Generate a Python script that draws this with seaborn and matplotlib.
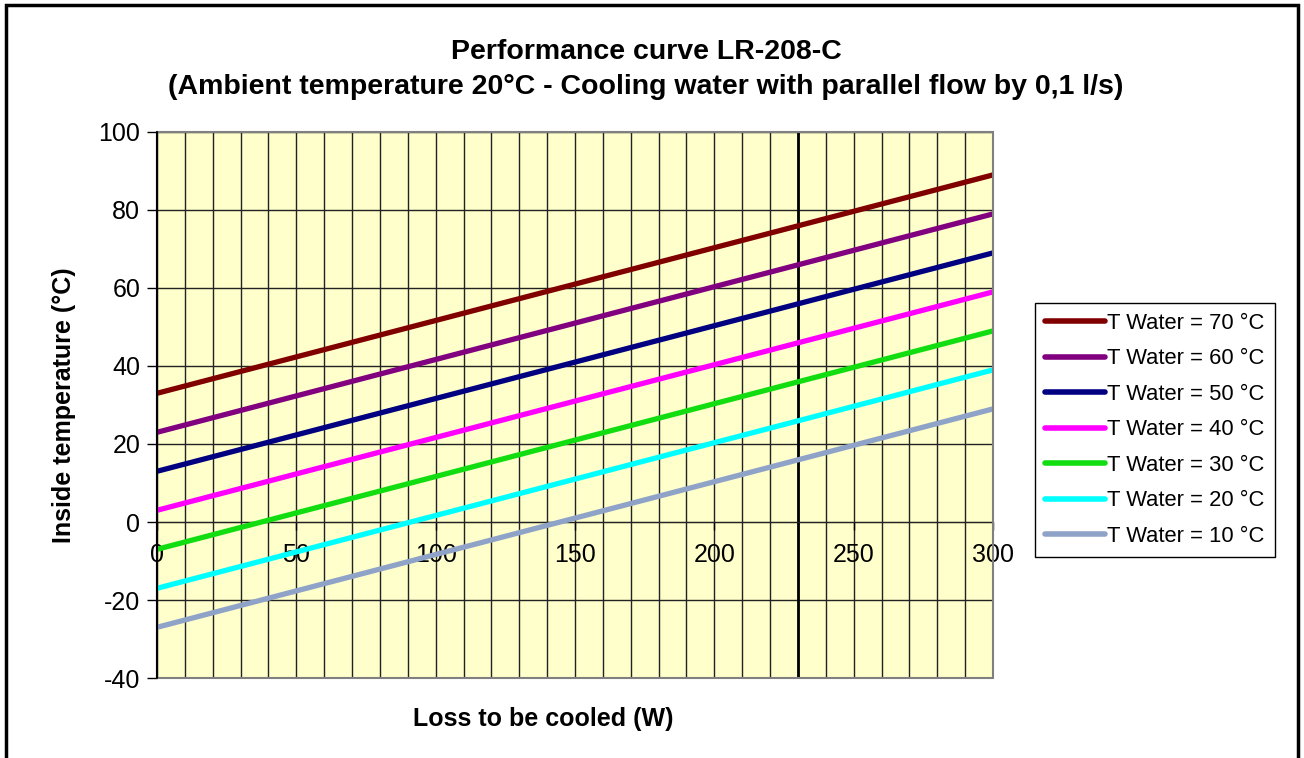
import pandas as pd
import matplotlib.pyplot as plt
import matplotlib.patches as mpatches
from matplotlib.ticker import MultipleLocator
import seaborn as sns

# Data
loss_w = [0, 300]
series_labels = ['T Water = 70 °C', 'T Water = 60 °C', 'T Water = 50 °C',
                 'T Water = 40 °C', 'T Water = 30 °C', 'T Water = 20 °C',
                 'T Water = 10 °C']
temp_start = [33, 23, 13, 3, -7, -17, -27]
temp_end = [89, 79, 69, 59, 49, 39, 29]
colors = ['#800000', '#800080', '#000080', '#FF00FF', '#11DD11', '#00FFFF', '#8FA3C8']
marker_loss = 230

rows = []
for lab, t0, t1 in zip(series_labels, temp_start, temp_end):
    rows.append({'loss': loss_w[0], 'temp': t0, 'series': lab})
    rows.append({'loss': loss_w[1], 'temp': t1, 'series': lab})
df = pd.DataFrame(rows)

sns.set_style('white')
plt.rcParams['font.family'] = ['Liberation Sans', 'DejaVu Sans']
plt.rcParams['axes.unicode_minus'] = False
plt.rcParams['text.color'] = 'black'
plt.rcParams['axes.labelcolor'] = 'black'

fig = plt.figure(figsize=(13.04, 7.58), dpi=100)
ax = fig.add_axes([157 / 1304, 80 / 758, 836 / 1304, 546 / 758])
ax.set_facecolor('#FFFFCC')

sns.lineplot(data=df, x='loss', y='temp', hue='series', hue_order=series_labels,
             palette=colors, linewidth=3.8, ax=ax, legend=False, zorder=3)

ax.set_xlim(0, 300)
ax.set_ylim(-40, 100)
ax.xaxis.set_major_locator(MultipleLocator(50))
ax.xaxis.set_minor_locator(MultipleLocator(10))
ax.yaxis.set_major_locator(MultipleLocator(20))
ax.grid(True, which='both', axis='x', color='#222222', linewidth=1)
ax.grid(True, which='major', axis='y', color='#222222', linewidth=1)
ax.axvline(marker_loss, color='black', linewidth=2, zorder=2)

# x axis crosses at 0 like the Excel chart
for s in ['top', 'right', 'left']:
    ax.spines[s].set_visible(False)
ax.spines['bottom'].set_position(('data', 0))
ax.spines['bottom'].set_color('#222222')
ax.add_patch(mpatches.Rectangle((0, 0), 1, 1, transform=ax.transAxes, fill=False,
                                edgecolor='#808080', linewidth=1.5, zorder=4, clip_on=False))
ax.plot([0, 0], [0, 1], transform=ax.transAxes, color='black', linewidth=1.5,
        zorder=5, clip_on=False)

ax.tick_params(axis='y', which='major', direction='out', length=7, width=1,
               labelsize=18, pad=5, left=True, colors='black')
ax.tick_params(axis='x', which='major', direction='out', length=6, width=1,
               labelsize=18, pad=9, bottom=True, colors='black')
ax.tick_params(axis='x', which='minor', length=0)

ax.set_xlabel('Loss to be cooled (W)', fontsize=18, fontweight='bold')
ax.xaxis.set_label_coords(0.462, -0.053)
ax.set_ylabel('Inside temperature (°C)', fontsize=18, fontweight='bold')
ax.yaxis.set_label_coords(-0.097, 0.5)

fig.text(0.4955, 0.932, 'Performance curve LR-208-C', ha='center', va='center',
         fontsize=20.5, fontweight='bold')
fig.text(0.4955, 0.885, '(Ambient temperature 20°C - Cooling water with parallel flow by 0,1 l/s)',
         ha='center', va='center', fontsize=20.5, fontweight='bold')

handles = [plt.Line2D([], [], color=c, linewidth=4) for c in colors]
leg = fig.legend(handles, series_labels, loc='upper left',
                 bbox_to_anchor=(1035 / 1304, 1 - 303 / 758), fontsize=15.8,
                 frameon=True, fancybox=False, edgecolor='black', framealpha=1,
                 handlelength=2.75, handletextpad=0.1, labelspacing=0.66,
                 borderpad=0.45, borderaxespad=0)
leg.get_frame().set_linewidth(1)

# outer chart frame (open at the bottom)
fig.patches.append(mpatches.Rectangle((6 / 1304, -0.05), 1292 / 1304, 1 - 5 / 758 + 0.05,
                                      transform=fig.transFigure, fill=False,
                                      edgecolor='black', linewidth=2.5))

fig.savefig('out.png', dpi=100)
